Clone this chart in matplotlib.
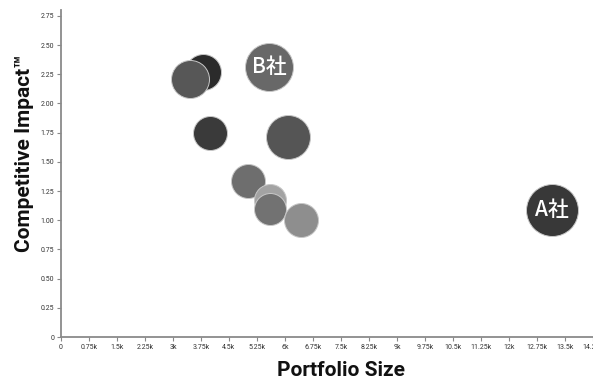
import matplotlib.pyplot as plt
from matplotlib.ticker import FuncFormatter, MultipleLocator

# portfolio bubbles (x = portfolio size, y = competitive impact)
names = ["", "", "B社", "", "", "", "", "", "", "A社"]
portfolio_size = [3800, 3450, 5570, 4000, 6080, 5000, 5590, 5590, 6420, 13150]
competitive_impact = [2.27, 2.21, 2.31, 1.75, 1.71, 1.34, 1.17, 1.10, 1.00, 1.09]
bubble_size = [36, 38, 48, 34, 44, 34, 32, 32, 34, 52]
shades = ["#2b2b2b", "#575757", "#686868", "#3a3a3a", "#555555",
          "#6e6e6e", "#a3a3a3", "#727272", "#8e8e8e", "#383838"]

plt.rcParams["font.family"] = ["Roboto", "Noto Sans CJK JP", "DejaVu Sans"]

fig = plt.figure(figsize=(5.93, 3.85), dpi=100)
ax = fig.add_axes([61 / 593, 48 / 385, 532 / 593, 327 / 385])

for i in range(len(names)):
    ax.scatter(portfolio_size[i], competitive_impact[i], s=(0.72 * bubble_size[i]) ** 2,
               color=shades[i], edgecolors="#c8c8c8", linewidths=0.7, zorder=3 + i,
               clip_on=False)
    if names[i]:
        ax.text(portfolio_size[i], competitive_impact[i], names[i], color="white",
                fontsize=15, fontweight="medium", ha="center", va="center", zorder=20,
                family=["Noto Sans CJK JP", "DejaVu Sans"])

ax.set_xlim(0, 14250)
ax.set_ylim(0, 2.8)
ax.xaxis.set_major_locator(MultipleLocator(750))
ax.yaxis.set_major_locator(MultipleLocator(0.25))


def fmt_k(v, pos):
    if v == 0:
        return "0"
    return ("%g" % (v / 1000)) + "k"


def fmt_y(v, pos):
    if v == 0:
        return "0"
    return "%.2f" % v


ax.xaxis.set_major_formatter(FuncFormatter(fmt_k))
ax.yaxis.set_major_formatter(FuncFormatter(fmt_y))
ax.tick_params(axis="both", labelsize=5, colors="#888888", labelcolor="#333333",
               length=3, width=0.8, pad=2)

for side in ["top", "right"]:
    ax.spines[side].set_visible(False)
for side in ["left", "bottom"]:
    ax.spines[side].set_color("#8a8a8a")
    ax.spines[side].set_linewidth(1.3)

fig.text(341 / 593, 1 - 371 / 385, "Portfolio Size", fontsize=15, fontweight="bold",
         fontstretch="condensed", ha="center", va="center", color="#111111")
fig.text(25 / 593, 1 - 153 / 385, "Competitive Impact\u2122", fontsize=15,
         fontweight="bold", fontstretch="condensed", rotation=90,
         ha="center", va="center", color="#111111")

fig.savefig("out.png", dpi=100)
